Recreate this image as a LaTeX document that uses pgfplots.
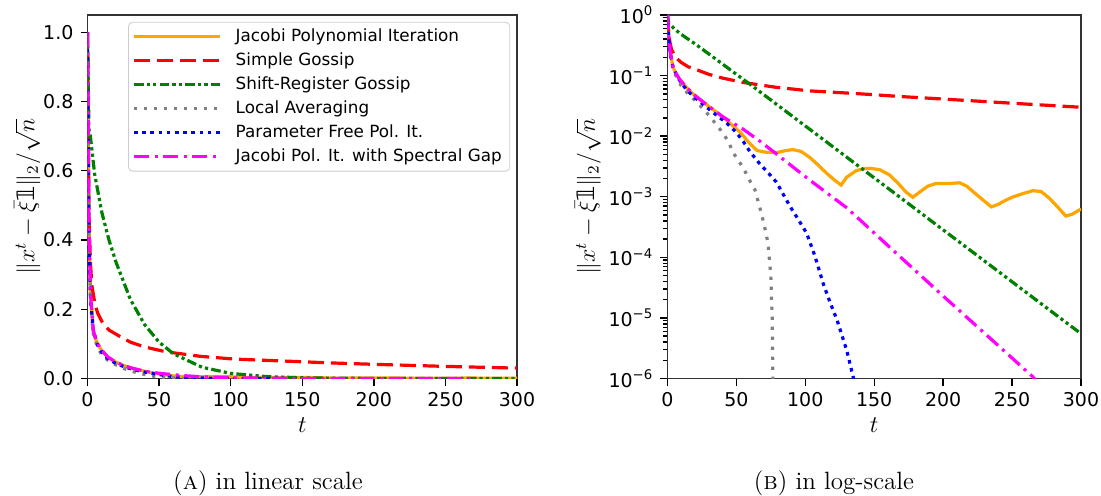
\documentclass[border=0pt]{standalone}
\usepackage{fontspec}
\newfontfamily\dejavu{DejaVu Sans}
\usepackage{pgfplots}
\pgfplotsset{compat=1.18}
\usepackage{pgfplotstable}
\newcommand{\one}{\hbox{\dejavu 𝟙}}

\definecolor{cOrange}{HTML}{FFA500}
\definecolor{cRed}{HTML}{FF0000}
\definecolor{cGreen}{HTML}{008000}
\definecolor{cGray}{HTML}{808080}
\definecolor{cBlue}{HTML}{0000FF}
\definecolor{cMagenta}{HTML}{FF00FF}

\pgfplotstableread{
t v
0 1.0
1 0.45
2 0.25
4 0.14
6 0.11
9 0.086
14 0.063
19 0.049
25 0.038
31 0.030
40 0.021
45 0.0166
53 0.0115
59 0.0079
65 0.0058
72 0.0054
80 0.0054
86 0.0058
91 0.0060
97 0.0056
103 0.0045
109 0.0034
115 0.0025
121 0.0019
126 0.00156
130 0.0021
137 0.0027
142 0.0029
147 0.00295
154 0.0028
161 0.0023
167 0.0017
173 0.0012
178 0.00098
183 0.0012
189 0.0015
195 0.00166
203 0.00165
212 0.0017
217 0.0015
222 0.0012
229 0.00088
235 0.00068
240 0.00075
245 0.00087
251 0.0010
258 0.00113
265 0.00126
271 0.00122
277 0.00095
283 0.00068
289 0.00048
294 0.00052
300 0.00063
}\jacobi

\pgfplotstableread{
t v
0 1.0
1 0.48
2 0.34
3 0.27
5 0.22
7 0.19
10 0.165
15 0.14
22 0.123
30 0.105
40 0.091
55 0.077
79 0.064
103 0.056
140 0.050
170 0.045
200 0.041
250 0.035
300 0.030
}\simple

\pgfplotstableread{
t v
0 1.0
1 0.72
2 0.70
5 0.59
10 0.48
15 0.40
20 0.335
30 0.228
40 0.155
50 0.105
60 0.0716
80 0.0325
100 0.01476
125 0.0055
150 0.00205
175 0.000764
200 0.000284
225 0.000106
250 0.0000395
275 0.0000147
300 0.0000055
}\shift

\pgfplotstableread{
t v
0 1.0
1 0.40
2 0.22
4 0.13
7 0.09
10 0.068
15 0.05
20 0.039
26 0.028
31 0.021
35 0.016
40 0.0115
44 0.0083
48 0.0052
55 0.0030
60 0.0018
63.5 0.0013
67 0.00067
70 0.00036
73 0.00017
75 0.00005
76 0.00001
76.5 0.000001
77 0.0000001
}\local

\pgfplotstableread{
t v
0 1.0
1 0.42
2 0.24
4 0.14
7 0.097
10 0.076
14 0.058
20 0.043
25 0.035
31 0.027
37 0.021
43 0.0165
50 0.0115
55 0.0082
60 0.0055
67 0.0035
73 0.0025
79 0.00175
84 0.0011
89 0.00069
95 0.00042
101 0.00025
107 0.000105
113 0.000037
118 0.000018
123 0.0000093
130 0.00000295
135 0.000001
138 0.0000003
}\pfree

\pgfplotstableread{
t v
0 1.0
1 0.45
2 0.25
4 0.14
6 0.11
9 0.086
14 0.063
19 0.049
25 0.038
31 0.030
40 0.021
48 0.0163
55 0.013
67 0.0083
80 0.0049
103 0.0019
130 0.00066
166 0.000117
200 0.000023
230 0.0000056
265 0.00000107
272 0.0000007
}\gap

\pgfplotsset{
  common/.style={
    scale only axis, height=181.75pt,
    xmin=0, xmax=300, enlargelimits=false,
    axis line style={draw=black!80, line width=0.7pt},
    tick align=outside, tick pos=left,
    major tick length=3.5pt, minor tick length=2pt,
    every tick/.style={black, line width=0.7pt},
    tick label style={font=\dejavu\fontsize{9.5}{11}\selectfont},
    /pgf/number format/assume math mode=true,
    xtick={0,50,...,300},
    xlabel={$t$},
    xlabel style={at={(axis description cs:0.5,-0.128)}, anchor=center},
    ylabel={$\|x^t-\bar{\xi}\one\|_2/\sqrt{n}$},
    label style={font=\fontsize{12}{14}\selectfont},
    every axis plot/.append style={line width=1.6pt},
  },
  sOrange/.style={cOrange, solid},
  sRed/.style={cRed, dash pattern=on 8pt off 3.5pt},
  sGreen/.style={cGreen, dash pattern=on 4.8pt off 1.6pt on 1.6pt off 1.6pt on 1.6pt off 1.6pt},
  sGray/.style={cGray, dash pattern=on 1.6pt off 3.4pt},
  sBlue/.style={cBlue, dash pattern=on 1.8pt off 2.3pt},
  sMagenta/.style={cMagenta, dash pattern=on 7.5pt off 2.8pt on 1.5pt off 2.8pt},
}

\begin{document}
\begin{tikzpicture}
\useasboundingbox (0,0) rectangle (550.5pt,247.5pt);

\begin{axis}[common,
  at={(43.75pt,58.25pt)}, anchor=south west,
  width=214.75pt,
  ymin=0, ymax=1.05,
  ytick={0,0.2,0.4,0.6,0.8,1.0},
  yticklabel style={/pgf/number format/.cd, fixed, fixed zerofill, precision=1},
  ylabel style={at={(axis description cs:-0.140,0.5)}, anchor=center},
  legend cell align=left,
  legend image code/.code={\draw[#1] (0pt,0pt) -- (43pt,0pt);},
  legend style={at={(0.984,0.981)}, anchor=north east,
    draw=black!20, rounded corners=2pt,
    font=\dejavu\fontsize{8.4}{10}\selectfont,
    nodes={text height=6.3pt, text depth=1.7pt, inner ysep=2.0pt},
    row sep=0pt, inner xsep=2pt, inner ysep=1.2pt,
    /tikz/every odd column/.append style={column sep=5pt}},
]
\addplot[sOrange] table[x=t,y=v] {\jacobi};
\addlegendentry{Jacobi Polynomial Iteration}
\addplot[sRed] table[x=t,y=v] {\simple};
\addlegendentry{Simple Gossip}
\addplot[sGreen] table[x=t,y=v] {\shift};
\addlegendentry{Shift-Register Gossip}
\addplot[sGray] table[x=t,y=v] {\local};
\addlegendentry{Local Averaging}
\addplot[sBlue] table[x=t,y=v] {\pfree};
\addlegendentry{Parameter Free Pol. It.}
\addplot[sMagenta] table[x=t,y=v] {\gap};
\addlegendentry{Jacobi Pol. It. with Spectral Gap}
\end{axis}

\begin{axis}[common,
  at={(333.7pt,58.25pt)}, anchor=south west,
  width=206.8pt,
  ymode=log, ymin=1e-6, ymax=1,
  ylabel style={at={(axis description cs:-0.192,0.5)}, anchor=center},
  ytick={1e-6,1e-5,1e-4,1e-3,1e-2,1e-1,1},
  yticklabels={10\textsuperscript{−6},10\textsuperscript{−5},10\textsuperscript{−4},10\textsuperscript{−3},10\textsuperscript{−2},10\textsuperscript{−1},10\textsuperscript{0}},
  minor ytick={2e-6,3e-6,4e-6,5e-6,6e-6,7e-6,8e-6,9e-6,
    2e-5,3e-5,4e-5,5e-5,6e-5,7e-5,8e-5,9e-5,
    2e-4,3e-4,4e-4,5e-4,6e-4,7e-4,8e-4,9e-4,
    2e-3,3e-3,4e-3,5e-3,6e-3,7e-3,8e-3,9e-3,
    2e-2,3e-2,4e-2,5e-2,6e-2,7e-2,8e-2,9e-2,
    0.2,0.3,0.4,0.5,0.6,0.7,0.8,0.9},
]
\addplot[sOrange] table[x=t,y=v] {\jacobi};
\addplot[sRed] table[x=t,y=v] {\simple};
\addplot[sGreen] table[x=t,y=v] {\shift};
\addplot[sGray] table[x=t,y=v] {\local};
\addplot[sBlue] table[x=t,y=v] {\pfree};
\addplot[sMagenta] table[x=t,y=v] {\gap};
\end{axis}

\node[anchor=base, font=\fontsize{12.5}{14}\selectfont] at (134pt,3pt) {(\textsc{a}) in linear scale};
\node[anchor=base, font=\fontsize{12.5}{14}\selectfont] at (417pt,3pt) {(\textsc{b}) in log-scale};
\end{tikzpicture}
\end{document}
